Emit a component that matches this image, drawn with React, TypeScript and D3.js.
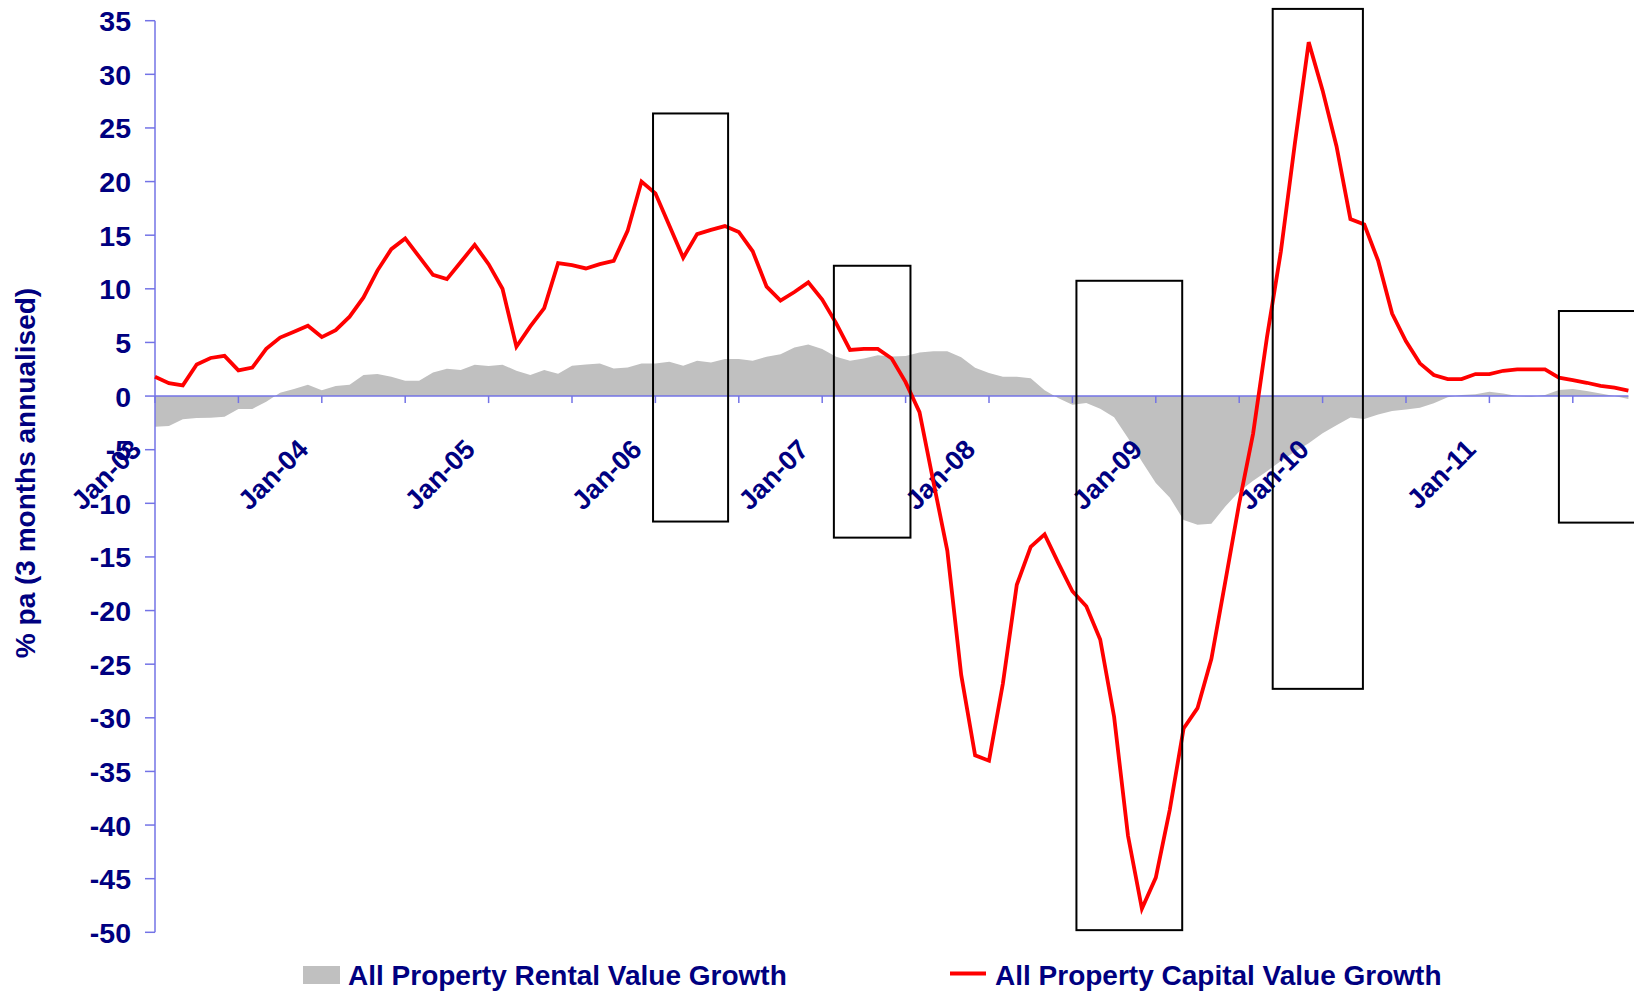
import React from 'react';
import * as d3 from 'd3';

// Monthly observations, Jan-03 .. Nov-11
const capitalGrowth: number[] = [
  1.8, 1.2, 1.0, 2.95, 3.55, 3.75, 2.4, 2.65, 4.4, 5.45, 6.0, 6.55,
  5.5, 6.15, 7.4, 9.2, 11.7, 13.7, 14.7, 13.0, 11.3, 10.9, 12.5, 14.1,
  12.3, 10.0, 4.6, 6.5, 8.2, 12.4, 12.2, 11.9, 12.3, 12.6, 15.4, 20.0,
  18.9, 15.9, 12.9, 15.1, 15.5, 15.85, 15.3, 13.5, 10.2, 8.9, 9.7, 10.6,
  9.0, 6.8, 4.3, 4.4, 4.4, 3.5, 1.3, -1.5, -8.0, -14.4, -26.0, -33.5,
  -34.0, -26.8, -17.6, -14.05, -12.9, -15.6, -18.2, -19.6, -22.7, -29.9, -41.0, -47.8,
  -44.9, -38.6, -31.0, -29.1, -24.5, -17.3, -10.0, -3.5, 5.5, 13.5, 23.5, 33.0,
  28.5, 23.3, 16.5, 16.0, 12.6, 7.7, 5.1, 3.05, 1.96, 1.58, 1.58, 2.05,
  2.05, 2.36, 2.49, 2.49, 2.49, 1.71, 1.49, 1.24, 0.96, 0.78, 0.5,
];

const rentalGrowth: number[] = [
  -2.85, -2.78, -2.17, -2.05, -2.02, -1.92, -1.2, -1.2, -0.53, 0.31, 0.66, 1.05,
  0.55, 0.93, 1.05, 1.96, 2.05, 1.8, 1.43, 1.43, 2.2, 2.55, 2.42, 2.92,
  2.8, 2.93, 2.36, 1.96, 2.42, 2.07, 2.83, 2.95, 3.04, 2.58, 2.67, 3.04,
  3.04, 3.2, 2.83, 3.3, 3.14, 3.45, 3.45, 3.3, 3.66, 3.9, 4.53, 4.8,
  4.38, 3.66, 3.3, 3.5, 3.8, 3.7, 3.73, 4.07, 4.18, 4.18, 3.63, 2.65,
  2.15, 1.8, 1.8, 1.65, 0.55, -0.2, -0.8, -0.64, -1.18, -1.97, -3.9, -6.1,
  -8.1, -9.45, -11.55, -12.0, -11.9, -10.3, -8.9, -7.9, -7.0, -6.06, -5.2, -4.4,
  -3.46, -2.73, -2.0, -2.13, -1.73, -1.4, -1.25, -1.09, -0.68, -0.12, 0.09, 0.16,
  0.4, 0.25, 0.0, -0.06, 0.09, 0.56, 0.65, 0.47, 0.25, 0.0, -0.28,
];

const yearLabels: string[] = ['Jan-03', 'Jan-04', 'Jan-05', 'Jan-06', 'Jan-07', 'Jan-08', 'Jan-09', 'Jan-10', 'Jan-11'];
const yTicks: number[] = [35, 30, 25, 20, 15, 10, 5, 0, -5, -10, -15, -20, -25, -30, -35, -40, -45, -50];

// Highlight boxes in data units: month index range and value range
const boxStart: number[] = [35.83, 48.84, 66.29, 80.41, 101.0];
const boxEnd: number[] = [41.23, 54.35, 73.9, 86.9, 112];
const boxTop: number[] = [26.35, 12.15, 10.75, 36.1, 7.93];
const boxBottom: number[] = [-11.7, -13.2, -49.8, -27.3, -11.8];

const legendRental = 'All Property Rental Value Growth';
const legendCapital = 'All Property Capital Value Growth';
const yTitle = '% pa (3 months annualised)';

export default function App() {
  const W = 1634;
  const H = 992;
  const n = capitalGrowth.length;
  const x = d3.scaleLinear().domain([0, n - 1]).range([155, 155 + 13.9 * (n - 1)]);
  const y = d3.scaleLinear().domain([-50, 35]).range([932.3, 20.7]);

  const idx = d3.range(n);
  const area = d3.area<number>().x((i) => x(i)).y0(y(0)).y1((i) => y(rentalGrowth[i]));
  const line = d3.line<number>().x((i) => x(i)).y((i) => y(capitalGrowth[i]));

  const navy = '#000080';
  const axisCol = '#7373e6';
  const font = '"Liberation Sans", Arial, Helvetica, sans-serif';
  const minorTicks = d3.range(0, n, 6);
  const yearTicks = d3.range(0, n, 12);

  return (
    <svg width={W} height={H} style={{ position: 'absolute', left: 0, top: 0, background: '#fff' }}>
      <rect x={0} y={0} width={W} height={H} fill="#fff" />
      {/* rental area */}
      <path d={area(idx) || ''} fill="#c0c0c0" stroke="none" />

      {/* x axis */}
      <line x1={x(0)} x2={x(n - 1)} y1={y(0)} y2={y(0)} stroke={axisCol} strokeWidth={1.5} />
      {minorTicks.map((i) => (
        <line key={'xt' + i} x1={x(i)} x2={x(i)} y1={y(0)} y2={y(0) + 7} stroke={axisCol} strokeWidth={1.5} />
      ))}

      {/* y axis */}
      <line x1={x(0)} x2={x(0)} y1={y(35)} y2={y(-50)} stroke={axisCol} strokeWidth={1.5} />
      {yTicks.map((t) => (
        <g key={'yt' + t}>
          <line x1={x(0) - 10} x2={x(0)} y1={y(t)} y2={y(t)} stroke={axisCol} strokeWidth={1.5} />
          <text x={131} y={y(t) + 10.5} textAnchor="end" fontFamily={font} fontWeight="bold" fontSize={28.5} fill={navy}>
            {t}
          </text>
        </g>
      ))}

      {/* x labels */}
      {yearTicks.map((i, k) => (
        <text
          key={'xl' + i}
          transform={`translate(${x(i) - 12},${451}) rotate(-45)`}
          textAnchor="end"
          fontFamily={font}
          fontWeight="bold"
          fontSize={27}
          fill={navy}
        >
          {yearLabels[k]}
        </text>
      ))}

      {/* y title */}
      <text
        transform={`translate(35,473) rotate(-90)`}
        textAnchor="middle"
        fontFamily={font}
        fontWeight="bold"
        fontSize={28}
        fill={navy}
      >
        {yTitle}
      </text>

      {/* capital line */}
      <path d={line(idx) || ''} fill="none" stroke="#ff0000" strokeWidth={3.8} strokeLinejoin="miter" />

      {/* boxes */}
      {boxStart.map((s, k) => (
        <rect
          key={'bx' + k}
          x={x(s)}
          y={y(boxTop[k])}
          width={x(boxEnd[k]) - x(s)}
          height={y(boxBottom[k]) - y(boxTop[k])}
          fill="none"
          stroke="#000"
          strokeWidth={2}
        />
      ))}

      {/* legend */}
      <rect x={303} y={966} width={37} height={18} fill="#c0c0c0" />
      <text x={348} y={985} fontFamily={font} fontWeight="bold" fontSize={28} fill={navy}>
        {legendRental}
      </text>
      <line x1={950} x2={986} y1={973.5} y2={973.5} stroke="#ff0000" strokeWidth={3.8} />
      <text x={995} y={985} fontFamily={font} fontWeight="bold" fontSize={28} fill={navy}>
        {legendCapital}
      </text>
    </svg>
  );
}
